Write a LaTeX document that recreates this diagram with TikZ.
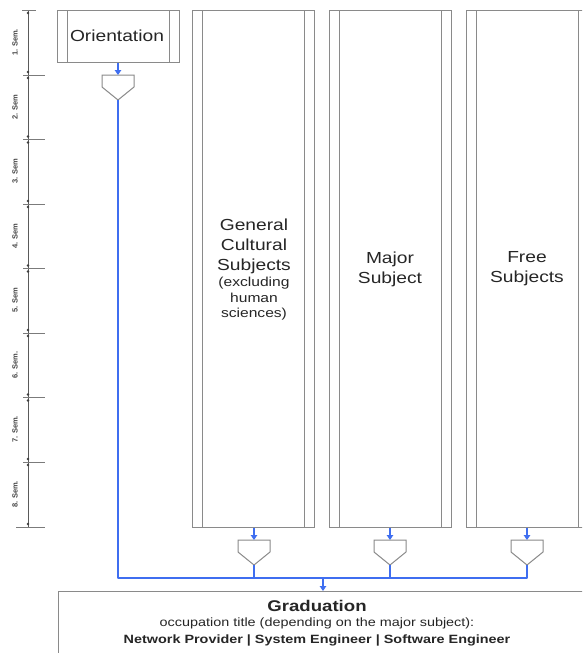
\documentclass[tikz,border=0pt]{standalone}
\usepackage{fontspec}
\setmainfont{Liberation Sans}[FakeStretch=1.2]
\newfontfamily\rulerfont{Liberation Sans}
\usetikzlibrary{arrows.meta}
\definecolor{flowblue}{HTML}{3F6EF0}
\definecolor{boxgray}{HTML}{8A8A8A}
\definecolor{rulegray}{HTML}{5A5A5A}
\definecolor{txt}{HTML}{262626}
\tikzset{
  procbox/.style={draw=boxgray, line width=1pt, inner sep=0pt, fill=white,
    path picture={
      \draw[boxgray, line width=1pt] ([xshift=10.5pt]path picture bounding box.north west) -- ([xshift=10.5pt]path picture bounding box.south west);
      \draw[boxgray, line width=1pt] ([xshift=-9.5pt]path picture bounding box.north east) -- ([xshift=-9.5pt]path picture bounding box.south east);
    }},
  plainbox/.style={draw=boxgray, line width=1pt, inner sep=0pt},
  flow/.style={draw=flowblue, line width=1.6pt},
  flowarrow/.style={flow, -{Triangle[length=5pt,width=6.5pt]}, line width=1.3pt},
  mergeshape/.style={draw=boxgray, line width=1pt, fill=white},
  bigtext/.style={text=txt, align=center, font=\fontsize{16}{20}\selectfont},
  smalltext/.style={text=txt, align=center, font=\fontsize{13}{15.5}\selectfont},
  semlabel/.style={text=txt!85, rotate=90, font=\rulerfont\bfseries\fontsize{7.5}{8}\selectfont},
  ruler/.style={draw=rulegray, line width=0.9pt},
  tickline/.style={draw=rulegray!80, line width=0.9pt},
}
\begin{document}
\begin{tikzpicture}[x=1pt,y=-1pt]
\useasboundingbox (0,0) rectangle (582,653);
\clip (0,0) rectangle (582,653);
\fill[white] (0,0) rectangle (582,653);

% ruler
\coordinate (rtop) at (28,10);
\coordinate (rbot) at (28,527);
\draw[ruler] (rtop) -- (rbot);
\draw[tickline] (22,10) -- (36,10);
\draw[tickline] (16,527) -- (45,527);
\foreach \t in {75,139.5,204,268.5,333,397.5,462}{
  \draw[tickline] (23,\t) -- (45,\t);
  \fill[rulegray!70!black] (28,\t-3) circle (1.4);
  \fill[rulegray!70!black] (28,\t+3) circle (1.4);
}
\fill[rulegray!70!black] (28,13) circle (1.4);
\fill[rulegray!70!black] (28,524) circle (1.4);
\node[semlabel] (s1) at (15,42.5) {1. Sem.};
\node[semlabel] (s2) at (15,107) {2. Sem};
\node[semlabel] (s3) at (15,171.5) {3. Sem};
\node[semlabel] (s4) at (15,236) {4. Sem};
\node[semlabel] (s5) at (15,300.5) {5. Sem};
\node[semlabel] (s6) at (15,365) {6. Sem.};
\node[semlabel] (s7) at (15,429.5) {7. Sem.};
\node[semlabel] (s8) at (15,494.5) {8. Sem.};

% boxes
\node[procbox, minimum width=122pt, minimum height=52pt] (orient) at (118,36) {};
\node[bigtext] (orienttxt) at (117,36) {Orientation};

\node[procbox, minimum width=122pt, minimum height=517pt] (col1) at (253,268.5) {};
\node[procbox, minimum width=122pt, minimum height=517pt] (col2) at (390,268.5) {};
\node[procbox, minimum width=122pt, minimum height=517pt] (col3) at (527,268.5) {};

\node[bigtext] (c1a) at (254,246) {General\\Cultural\\Subjects};
\node[smalltext] (c1b) at (254,299) {(excluding\\human\\sciences)};
\node[bigtext] (c2) at (390,269) {Major\\Subject};
\node[bigtext] (c3) at (527,269) {Free\\Subjects};

% merge shapes
\foreach \n/\x/\y in {m0/118/75, m1/254/540, m2/390/540, m3/527/540}{
  \coordinate (\n) at (\x,\y);
  \coordinate (\n p) at (\x,\y+25);
  \draw[mergeshape] (\n) ++(-16,0) -- ++(32,0) -- ++(0,12) -- ++(-16,13) -- ++(-16,-13) -- cycle;
}

% graduation box
\node[plainbox, minimum width=528pt, minimum height=72pt, anchor=north] (grad) at (322,591) {};
\node[text=txt, font=\bfseries\fontsize{15.5}{18}\selectfont] (gt1) at (317,606) {Graduation};
\node[text=txt, font=\fontsize{12}{14}\selectfont] (gt2) at (317,623) {occupation title (depending on the major subject):};
\node[text=txt, font=\bfseries\fontsize{12}{14}\selectfont] (gt3) at (317,640) {Network Provider | System Engineer | Software Engineer};

% flow
\coordinate (bl) at (118,578);
\coordinate (br) at (527,578);
\draw[flowarrow] (orient.south) -- (m0);
\draw[flowarrow] (col1.south -| m1) -- (m1);
\draw[flowarrow] (col2.south -| m2) -- (m2);
\draw[flowarrow] (col3.south -| m3) -- (m3);
\draw[flow, line join=round] (m0p) -- (bl) -- (br) -- (m3p);
\draw[flow] (m1p) -- (m1p |- bl);
\draw[flow] (m2p) -- (m2p |- bl);
\draw[flowarrow] (bl -| 323,0) -- (grad.north -| 323,0);
\end{tikzpicture}
\end{document}
